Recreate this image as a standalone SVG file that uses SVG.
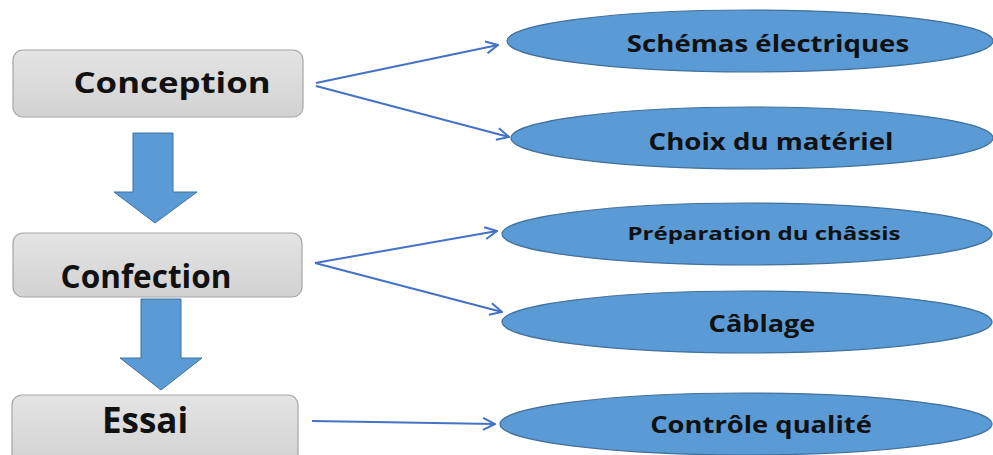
<svg xmlns="http://www.w3.org/2000/svg" width="993" height="455" viewBox="0 0 993 455">
  <style>
    .box { fill: url(#boxFill); stroke: #A6A6A6; stroke-width: 1.2; }
    .oval { fill: #5B9BD5; stroke: #41719C; stroke-width: 1.2; }
    .flow { fill: #5B9BD5; stroke: #41719C; stroke-width: 1; }
    .link { fill: none; stroke: #4472C4; stroke-width: 2; marker-end: url(#open); }
    .step, .task { font-family: "Open Sans", "Liberation Sans", sans-serif; font-weight: bold; fill: #111; text-anchor: middle; }
  </style>
  <defs>
    <linearGradient id="boxFill" x1="0" y1="0" x2="0" y2="1">
      <stop offset="0" stop-color="#E4E4E4"/>
      <stop offset="1" stop-color="#D2D2D2"/>
    </linearGradient>
    <marker id="open" viewBox="0 0 14 14" refX="13" refY="7" markerWidth="14" markerHeight="14" markerUnits="userSpaceOnUse" orient="auto">
      <path d="M1,1 L13,7 L1,13" fill="none" stroke="#4472C4" stroke-width="2"/>
    </marker>
  </defs>

  <rect width="993" height="455" fill="#FFFFFF"/>

  <!-- process steps -->
  <g id="conception">
    <rect class="box" x="13" y="50" width="290" height="67" rx="10"/>
    <text class="step" transform="translate(172,93) scale(1.2,1)" font-size="29">Conception</text>
  </g>
  <g id="confection">
    <rect class="box" x="13" y="233" width="289" height="64" rx="10"/>
    <text class="step" x="146" y="288" font-size="31.5">Confection</text>
  </g>
  <g id="essai">
    <rect class="box" x="12" y="395" width="286" height="70" rx="10"/>
    <text class="step" x="145" y="433" font-size="35">Essai</text>
  </g>

  <!-- tasks -->
  <g id="schemas">
    <ellipse class="oval" cx="750" cy="41" rx="243" ry="31"/>
    <text class="task" transform="translate(768,52) scale(1.15,1)" font-size="24">Schémas électriques</text>
  </g>
  <g id="materiel">
    <ellipse class="oval" cx="752" cy="138" rx="241" ry="31"/>
    <text class="task" transform="translate(771,150) scale(1.15,1)" font-size="24">Choix du matériel</text>
  </g>
  <g id="chassis">
    <ellipse class="oval" cx="747" cy="234" rx="245" ry="31"/>
    <text class="task" transform="translate(764,240) scale(1.3,1)" font-size="18.5">Préparation du châssis</text>
  </g>
  <g id="cablage">
    <ellipse class="oval" cx="747" cy="322" rx="245" ry="31"/>
    <text class="task" transform="translate(762,332) scale(1.13,1)" font-size="24">Câblage</text>
  </g>
  <g id="controle">
    <ellipse class="oval" cx="746" cy="424" rx="246" ry="31"/>
    <text class="task" transform="translate(761,433) scale(1.14,1)" font-size="24">Contrôle qualité</text>
  </g>

  <!-- connectors -->
  <g id="connectors">
    <path class="flow" d="M133,133 H173 V192 H197 L155,223 L114,192 H133 Z"/>
    <path class="flow" d="M141,299 H181 V358 H202 L161,390 L120,358 H141 Z"/>
    <line class="link" x1="316" y1="83" x2="498" y2="45"/>
    <line class="link" x1="316" y1="86" x2="509" y2="137"/>
    <line class="link" x1="315" y1="263" x2="497" y2="231"/>
    <line class="link" x1="315" y1="263" x2="502" y2="312"/>
    <line class="link" x1="312" y1="421" x2="495" y2="424"/>
  </g>
</svg>
